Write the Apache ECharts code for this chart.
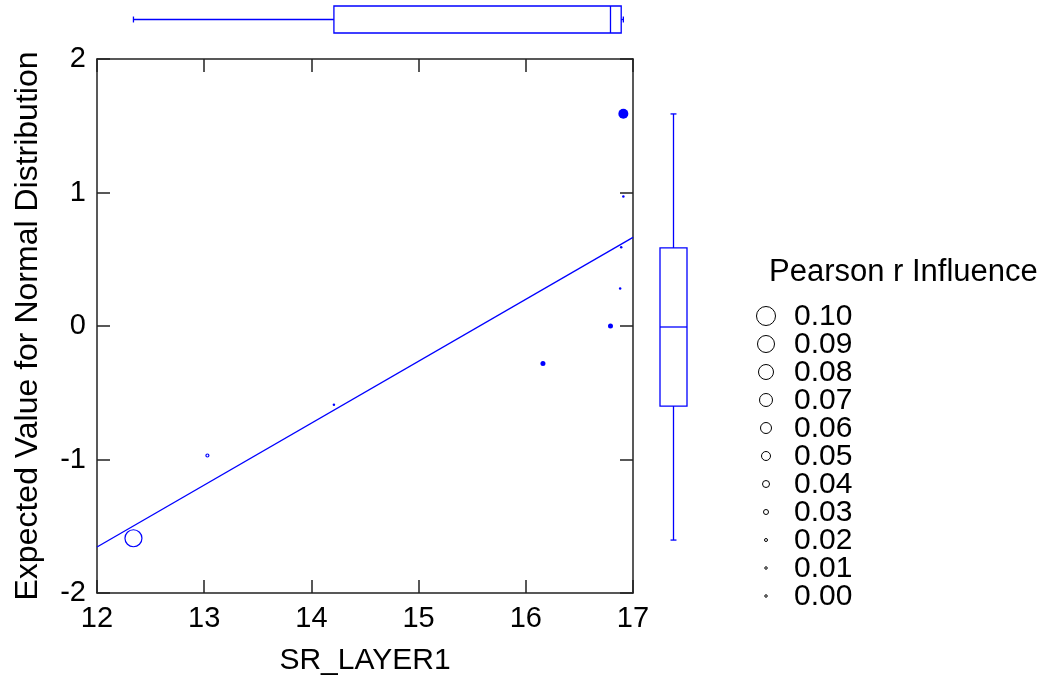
<!DOCTYPE html>
<html><head><meta charset="utf-8">
<script src="https://cdn.jsdelivr.net/npm/echarts@6/dist/echarts.min.js"></script>
<style>html,body{margin:0;padding:0;background:#fff}#c{width:1049px;height:681px}</style>
</head><body><div id="c"></div>
<script>
// ---- data ----
const srLayer1       = [12.34, 13.03, 14.21, 16.16, 16.79, 16.88, 16.89, 16.91, 16.91];
const expectedNormal = [-1.59, -0.97, -0.59, -0.28, 0.00, 0.28, 0.59, 0.97, 1.59];
const influence      = [0.09, 0.02, 0.015, 0.03, 0.03, 0.00, 0.01, 0.01, 0.055];
const filledMarker   = [false, false, true, true, true, true, true, true, true];
const legendValues   = [0.10, 0.09, 0.08, 0.07, 0.06, 0.05, 0.04, 0.03, 0.02, 0.01, 0.00];
const legendTitle    = 'Pearson r Influence';
const xTitle = 'SR_LAYER1';
const yTitle = 'Expected Value for Normal Distribution';

// ---- helpers ----
const BLUE = '#0000ff';
const FONT = 'Liberation Sans, Arial, sans-serif';
function sizeOf(v){ return Math.max(2.5, 200*v - 1); }
function fiveNum(arr){
  const s = arr.slice().sort((a,b)=>a-b), n = s.length;
  const med = a => { const m=a.length; return m%2 ? a[(m-1)/2] : (a[m/2-1]+a[m/2])/2; };
  const h = Math.ceil(n/2);
  return [s[0], med(s.slice(0,h)), med(s), med(s.slice(n-h)), s[n-1]];
}
function fit(xs, ys){
  const n=xs.length, mx=xs.reduce((a,b)=>a+b)/n, my=ys.reduce((a,b)=>a+b)/n;
  let sxy=0,sxx=0; for(let i=0;i<n;i++){sxy+=(xs[i]-mx)*(ys[i]-my); sxx+=(xs[i]-mx)**2;}
  const b=sxy/sxx; return {a: my-b*mx, b};
}
const xStats = fiveNum(srLayer1), yStats = fiveNum(expectedNormal);
const reg = fit(srLayer1, expectedNormal);
const X0=12, X1=17, Y0=-2, Y1=2;

const pts = srLayer1.map((x,i)=>({
  value:[x, expectedNormal[i]],
  symbolSize: sizeOf(influence[i]),
  itemStyle: filledMarker[i] ? {color:BLUE, borderColor:BLUE, borderWidth:0, opacity:1}
                             : {color:'rgba(255,255,255,0)', borderColor:BLUE, borderWidth:1.2, opacity:1}
}));

function boxRender(horizontal){
  return function(params, api){
    const v=[0,1,2,3,4].map(i=>api.value(i));
    const P = (val, off) => horizontal ? api.coord([val, off]) : api.coord([off, val]);
    const seg = (a,b)=>({type:'line', shape:{x1:a[0],y1:a[1],x2:b[0],y2:b[1]}, style:{stroke:BLUE, lineWidth:1.3}});
    const cap = 0.22;
    const c = [];
    c.push(seg(P(v[0],0),P(v[1],0)));
    c.push(seg(P(v[3],0),P(v[4],0)));
    c.push(seg(P(v[0],-cap),P(v[0],cap)));
    c.push(seg(P(v[4],-cap),P(v[4],cap)));
    const a=P(v[1],-1), b=P(v[3],1);
    c.push({type:'rect', shape:{x:Math.min(a[0],b[0]), y:Math.min(a[1],b[1]), width:Math.abs(b[0]-a[0]), height:Math.abs(b[1]-a[1])},
            style:{fill:'none', stroke:BLUE, lineWidth:1.3}});
    c.push(seg(P(v[2],-1),P(v[2],1)));
    return {type:'group', children:c};
  };
}

const axisLine = {show:true, onZero:false, lineStyle:{color:'#222', width:1.5}};
const tickIn = {show:true, inside:true, length:13, lineStyle:{color:'#222', width:1.5}};
const lbl = {color:'#000', fontSize:29, fontFamily:FONT};

// legend graphics
const LX=766, LY=316, LSTEP=28;
const legendG = [{type:'text', left:769, top:257, style:{text:legendTitle, fill:'#000', font:'31px '+FONT}}];
legendValues.forEach((v,i)=>{
  legendG.push({type:'circle', shape:{cx:LX, cy:LY+i*LSTEP, r:sizeOf(v)/2}, style:{fill:'#fff', stroke:'#000', lineWidth:1}});
  legendG.push({type:'text', x:794, y:LY+i*LSTEP+1, style:{text:v.toFixed(2), fill:'#000', font:'30px '+FONT, textVerticalAlign:'middle'}});
});

const chart = echarts.init(document.getElementById('c'), null, {renderer:'canvas'});
chart.setOption({
  animation:false,
  backgroundColor:'#fff',
  grid:[
    {left:97, top:59, width:536, height:536},
    {left:97, top:6, width:536, height:27},
    {left:660, top:59, width:27, height:536}
  ],
  xAxis:[
    {gridIndex:0, type:'value', min:X0, max:X1, interval:1, position:'bottom', axisLine, axisTick:tickIn,
     axisLabel:{...lbl, margin:11}, splitLine:{show:false},
     name:xTitle, nameLocation:'middle', nameGap:53, nameTextStyle:{...lbl, fontSize:30}},
    {gridIndex:0, type:'value', min:X0, max:X1, interval:1, position:'top', axisLine, axisTick:tickIn,
     axisLabel:{show:false}, splitLine:{show:false}},
    {gridIndex:1, type:'value', min:X0, max:X1, show:false},
    {gridIndex:2, type:'value', min:-1, max:1, show:false}
  ],
  yAxis:[
    {gridIndex:0, type:'value', min:Y0, max:Y1, interval:1, position:'left', axisLine, axisTick:tickIn,
     axisLabel:{...lbl, margin:11}, splitLine:{show:false},
     name:yTitle, nameLocation:'middle', nameGap:53, nameTextStyle:{...lbl, fontSize:32}},
    {gridIndex:0, type:'value', min:Y0, max:Y1, interval:1, position:'right', axisLine, axisTick:tickIn,
     axisLabel:{show:false}, splitLine:{show:false}},
    {gridIndex:1, type:'value', min:-1, max:1, show:false},
    {gridIndex:2, type:'value', min:Y0, max:Y1, show:false}
  ],
  series:[
    {type:'line', xAxisIndex:0, yAxisIndex:0, data:[[X0, reg.a+reg.b*X0],[X1, reg.a+reg.b*X1]],
     showSymbol:false, symbol:'none', lineStyle:{color:BLUE, width:1.3}, z:2},
    {type:'scatter', xAxisIndex:0, yAxisIndex:0, data:pts, z:3},
    {type:'custom', xAxisIndex:2, yAxisIndex:2, data:[xStats], renderItem:boxRender(true)},
    {type:'custom', xAxisIndex:3, yAxisIndex:3, data:[yStats], renderItem:boxRender(false)}
  ],
  graphic: legendG
});
</script></body></html>
